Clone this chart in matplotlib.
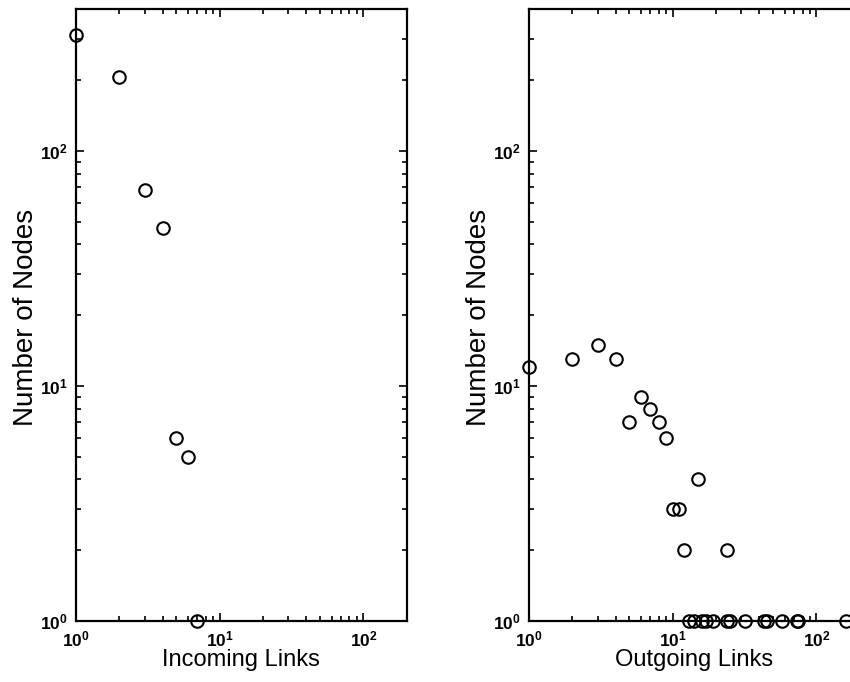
import math
import matplotlib
matplotlib.use("Agg")
import matplotlib.pyplot as plt
from matplotlib.ticker import LogLocator, FuncFormatter, NullFormatter

plt.rcParams['font.family'] = ['Liberation Sans', 'DejaVu Sans']
plt.rcParams['mathtext.fontset'] = 'custom'
plt.rcParams['mathtext.rm'] = 'Liberation Sans'
plt.rcParams['mathtext.bf'] = 'Liberation Sans:bold'

# incoming links distribution
in_links = [1, 2, 3, 4, 5, 6, 7]
in_nodes = [310, 206, 68, 47, 6, 5, 1]

# outgoing links distribution
out_links = [1, 2, 3, 4, 5, 6, 7, 8, 9, 10, 11, 12, 15, 24,
             13, 14, 16, 17, 19, 24, 25, 32, 43, 45, 58, 73, 75, 160]
out_nodes = [12, 13, 15, 13, 7, 9, 8, 7, 6, 3, 3, 2, 4, 2,
             1, 1, 1, 1, 1, 1, 1, 1, 1, 1, 1, 1, 1, 1]


def pow10(v, pos):
    return r'$\mathbf{10^{%d}}$' % round(math.log10(v))


def style_axes(ax, xlabel, xlim, ylim):
    ax.set_xscale('log')
    ax.set_yscale('log')
    ax.set_xlim(*xlim)
    ax.set_ylim(*ylim)
    for s in ax.spines.values():
        s.set_linewidth(1.6)
    ax.xaxis.set_major_locator(LogLocator(base=10, numticks=10))
    ax.yaxis.set_major_locator(LogLocator(base=10, numticks=10))
    ax.xaxis.set_minor_locator(LogLocator(base=10, subs=range(2, 10), numticks=10))
    ax.yaxis.set_minor_locator(LogLocator(base=10, subs=range(2, 10), numticks=10))
    ax.xaxis.set_major_formatter(FuncFormatter(pow10))
    ax.yaxis.set_major_formatter(FuncFormatter(pow10))
    ax.xaxis.set_minor_formatter(NullFormatter())
    ax.yaxis.set_minor_formatter(NullFormatter())
    ax.tick_params(which='both', direction='in', top=True, right=True,
                   labelsize=12.5, width=1.2)
    ax.tick_params(which='major', length=6, pad=6)
    ax.tick_params(which='minor', length=3.5)
    ax.set_xlabel(xlabel, fontsize=17)
    ax.set_ylabel('Number of Nodes', fontsize=20)
    ax.xaxis.set_label_coords(0.5, -0.045)


fig = plt.figure(figsize=(8.5, 6.82), dpi=100)
ax1 = fig.add_axes([0.0894, 0.0894, 0.389, 0.897])
ax2 = fig.add_axes([0.6224, 0.0894, 0.389, 0.897])

ax1.plot(in_links, in_nodes, 'o', mfc='none', mec='black', ms=9, mew=1.5, clip_on=False)
ax2.plot(out_links, out_nodes, 'o', mfc='none', mec='black', ms=9, mew=1.5, clip_on=False)

style_axes(ax1, 'Incoming Links', (1, 200), (1, 400))
style_axes(ax2, 'Outgoing Links', (1, 200), (1, 400))
ax1.yaxis.set_label_coords(-0.112, 0.496)
ax2.yaxis.set_label_coords(-0.113, 0.496)

fig.savefig('out.png', dpi=100)
